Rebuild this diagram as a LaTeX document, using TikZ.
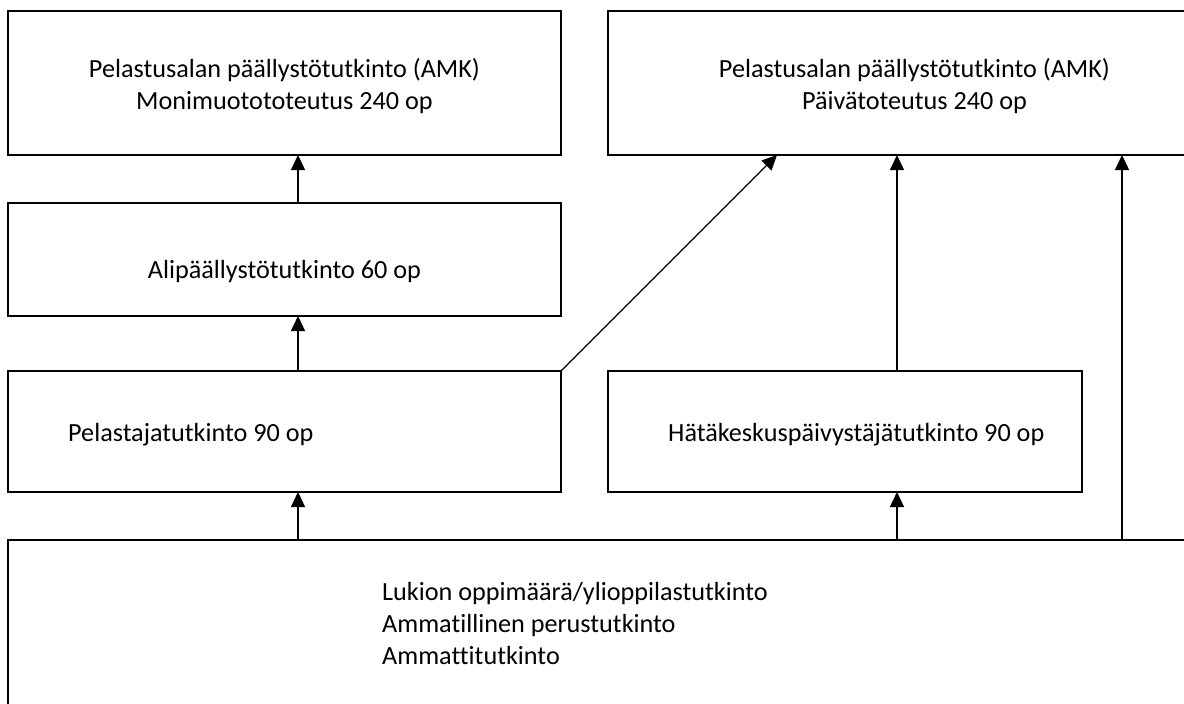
\documentclass[tikz,border=0pt]{standalone}
\usepackage{fontspec}
\setmainfont{Carlito}[Ligatures=NoCommon]
\usetikzlibrary{arrows.meta,calc}
\begin{document}
\begin{tikzpicture}[x=1pt,y=-1pt,
  box/.style={draw,line width=1.5pt,rectangle,inner sep=0pt,outer sep=0pt,anchor=north west},
  lbl/.style={font=\fontsize{26.2}{32}\selectfont,inner sep=0pt},
  arr/.style={line width=1.3pt,-{Triangle[length=15pt,width=14pt]}}]
\useasboundingbox (0,0) rectangle (1184,704);
\clip (0,0) rectangle (1184,704);
\fill[white] (0,0) rectangle (1184,704);
% boxes
\node[box,minimum width=553pt,minimum height=144pt] (a) at (8,11) {};
\node[box,minimum width=613pt,minimum height=144pt] (b) at (608,11) {};
\node[box,minimum width=553pt,minimum height=113pt] (c) at (8,203) {};
\node[box,minimum width=553pt,minimum height=121pt] (d) at (8,371) {};
\node[box,minimum width=474pt,minimum height=121pt] (h) at (608,371) {};
\node[box,minimum width=1300pt,minimum height=300pt] (e) at (8,540) {};
% labels
\node[lbl,anchor=base] (aT1) at (284.5,77) {Pelastusalan päällystötutkinto (AMK)};
\node[lbl,anchor=base] (aT2) at (284.5,109) {Monimuotototeutus 240 op};
\node[lbl,anchor=base] (bT1) at (914.5,77) {Pelastusalan päällystötutkinto (AMK)};
\node[lbl,anchor=base] (bT2) at (914.5,109) {Päivätoteutus 240 op};
\node[lbl,anchor=base] (cT) at (284.5,278) {Alipäällystötutkinto 60 op};
\node[lbl,anchor=base west] (dT) at (68,441) {Pelastajatutkinto 90 op};
\node[lbl,anchor=base west] (hT) at (668,441) {Hätäkeskuspäivystäjätutkinto 90 op};
\node[lbl,anchor=base west] (eT1) at (382,600) {Lukion oppimäärä/ylioppilastutkinto};
\node[lbl,anchor=base west] (eT2) at (382,632) {Ammatillinen perustutkinto};
\node[lbl,anchor=base west] (eT3) at (382,664) {Ammattitutkinto};
% connector columns
\coordinate (x1) at (298,0);
\coordinate (x2) at (897,0);
\coordinate (x3) at (1122,0);
\coordinate (xd) at (777,0);
% connectors
\draw[arr] (e.north -| x1) -- (d.south -| x1);
\draw[arr] (d.north -| x1) -- (c.south -| x1);
\draw[arr] (c.north -| x1) -- (a.south -| x1);
\draw[arr] (d.north east) -- (b.south -| xd);
\draw[arr] (e.north -| x2) -- (h.south -| x2);
\draw[arr] (h.north -| x2) -- (b.south -| x2);
\draw[arr] (e.north -| x3) -- (b.south -| x3);
\end{tikzpicture}
\end{document}
